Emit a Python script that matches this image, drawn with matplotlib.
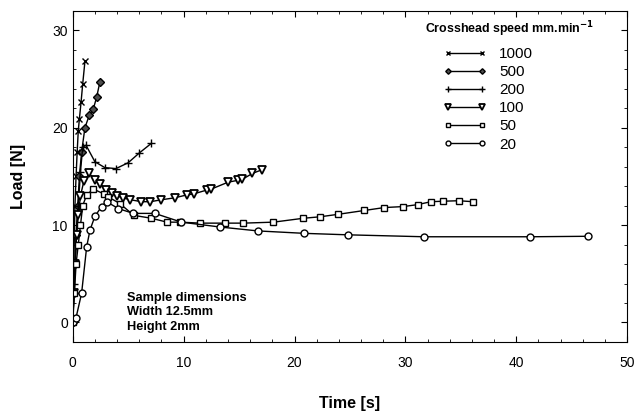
import matplotlib
matplotlib.use("Agg")
import matplotlib.pyplot as plt
from matplotlib.ticker import MultipleLocator

plt.rcParams["font.family"] = ["Liberation Sans", "DejaVu Sans"]

# crosshead speed 1000 mm/min
t_1000 = [0, 0.05, 0.1, 0.15, 0.2, 0.3, 0.4, 0.5, 0.6, 0.75, 0.9, 1.1]
f_1000 = [0, 3, 6, 9, 12, 15, 17.5, 19.7, 20.9, 22.6, 24.5, 26.8]
# 500
t_500 = [0, 0.1, 0.2, 0.3, 0.45, 0.6, 0.8, 1.1, 1.5, 1.85, 2.15, 2.45]
f_500 = [0, 3, 6, 9, 12, 15, 17.5, 20, 21.3, 21.9, 23.1, 24.7]
# 200
t_200 = [0, 0.15, 0.3, 0.5, 0.7, 0.9, 1.2, 2.0, 2.9, 3.9, 5.0, 6.0, 7.1]
f_200 = [0, 4, 8, 12, 15.5, 18, 18.2, 16.5, 15.9, 15.8, 16.4, 17.4, 18.4]
# 100
t_100 = [0, 0.1, 0.2, 0.35, 0.5, 0.7, 1.0, 1.5, 2.0, 2.5, 3.0, 3.5, 4.0, 4.5,
         5.2, 6.2, 7.0, 8.0, 9.2, 10.3, 10.9, 12.1, 12.5, 14.0, 14.9, 15.3,
         16.2, 17.1]
f_100 = [0, 3, 6, 9, 11, 13, 14.5, 15.3, 14.6, 14.2, 13.6, 13.3, 13.0, 12.8,
         12.6, 12.4, 12.4, 12.6, 12.8, 13.1, 13.2, 13.6, 13.7, 14.4, 14.6, 14.7,
         15.3, 15.7]
# 50
t_50 = [0, 0.15, 0.3, 0.5, 0.7, 0.9, 1.26, 1.86, 2.8, 3.2, 4.26, 5.5, 7.1, 8.5,
        9.7, 11.5, 13.7, 15.4, 18.1, 20.8, 22.3, 23.9, 26.3, 28.1, 29.8, 31.1,
        32.3, 33.4, 34.8, 36.1]
f_50 = [0, 3, 6, 8, 10, 12, 13.1, 13.7, 13.2, 12.9, 12.2, 11.0, 10.7, 10.3,
        10.3, 10.2, 10.2, 10.2, 10.3, 10.7, 10.85, 11.1, 11.5, 11.8, 11.9, 12.1,
        12.4, 12.45, 12.5, 12.4]
# 20
t_20 = [0, 0.3, 0.8, 1.26, 1.56, 2.0, 2.6, 3.06, 4.1, 5.46, 7.4, 9.8, 13.3,
        16.7, 20.9, 24.8, 31.7, 41.2, 46.5]
f_20 = [0, 0.5, 3.0, 7.8, 9.5, 10.9, 11.9, 12.4, 11.7, 11.2, 11.2, 10.3, 9.8,
        9.4, 9.15, 9.0, 8.8, 8.8, 8.85]

fig = plt.figure(figsize=(6.38, 4.16), dpi=100)
ax = fig.add_axes([0.114, 0.178, 0.869, 0.796])

ax.plot(t_1000, f_1000, "k-", lw=1, marker="x", ms=5, mew=1, label="1000")
ax.plot(t_500, f_500, "k-", lw=1, marker="D", ms=4, mfc="0.3", label="500")
ax.plot(t_200, f_200, "k-", lw=1, marker="+", ms=6, mew=1, label="200")
ax.plot(t_100, f_100, "k-", lw=1, marker="v", ms=6, mfc="white", mew=1.3, label="100")
ax.plot(t_50, f_50, "k-", lw=1, marker="s", ms=5, mfc="white", mew=1, label="50")
ax.plot(t_20, f_20, "k-", lw=1, marker="o", ms=5, mfc="white", mew=1, label="20")

ax.set_xlim(0, 50)
ax.set_ylim(-2, 32)
ax.set_xticks([0, 10, 20, 30, 40, 50])
ax.set_yticks([0, 10, 20, 30])
ax.xaxis.set_minor_locator(MultipleLocator(2))
ax.yaxis.set_minor_locator(MultipleLocator(2))
ax.tick_params(which="both", direction="in", top=True, right=True, labelsize=10)
ax.tick_params(which="major", length=4)
ax.tick_params(which="minor", length=2)
ax.tick_params(axis="x", pad=10)

ax.set_xlabel("Time [s]", fontsize=11.5, fontweight="bold", labelpad=19)
ax.set_ylabel("Load [N]", fontsize=11.5, fontweight="bold")
ax.yaxis.set_label_coords(-0.085, 0.5)

ax.text(4.9, 3.15, "Sample dimensions\nWidth 12.5mm\nHeight 2mm",
        fontsize=9.2, fontweight="bold", va="top", linespacing=1.3)

ax.text(0.636, 0.943, "Crosshead speed mm.min$^{\\mathbf{-1}}$", transform=ax.transAxes,
        fontsize=8.9, fontweight="bold", va="center", ha="left")
ax.legend(loc="upper left", bbox_to_anchor=(0.668, 0.891), frameon=False,
          numpoints=2, handlelength=2.85, fontsize=11, labelspacing=0.27,
          borderpad=0, borderaxespad=0, markerscale=0.7)

fig.savefig("out.png", dpi=100)
